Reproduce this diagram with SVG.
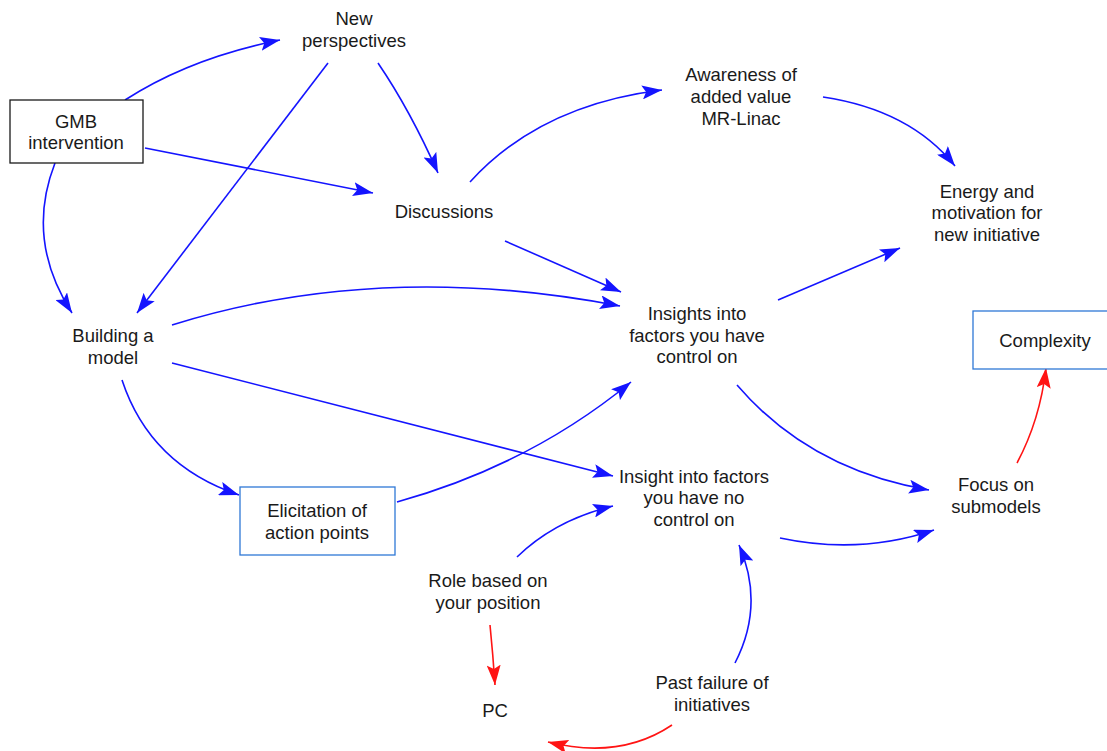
<svg xmlns="http://www.w3.org/2000/svg" width="1107" height="751" viewBox="0 0 1107 751">
  <style>
    text { font-family: "Liberation Sans", Arial, sans-serif; font-size: 18.5px; fill: #1a1a1a; text-anchor: middle; }
    .box { fill: #ffffff; stroke-width: 1.3; }
    .black { stroke: #1a1a1a; }
    .blue { stroke: #2f78d6; }
    .link { fill: none; stroke-width: 1.6; }
    .pos { stroke: #1414ff; marker-end: url(#ab); }
    .neg { stroke: #ff1414; marker-end: url(#ar); }
  </style>
  <defs>
    <marker id="ab" markerUnits="userSpaceOnUse" markerWidth="22" markerHeight="14" viewBox="0 0 22 14" refX="20" refY="7" orient="auto">
      <path d="M0,0 L20,7 L0,14 L4,7 Z" fill="#1414ff"/>
    </marker>
    <marker id="ar" markerUnits="userSpaceOnUse" markerWidth="22" markerHeight="14" viewBox="0 0 22 14" refX="20" refY="7" orient="auto">
      <path d="M0,0 L20,7 L0,14 L4,7 Z" fill="#ff1414"/>
    </marker>
  </defs>

  <g id="connectors">
    <path class="link pos" d="M125,100 Q190,58 280,40"/>
    <path class="link pos" d="M145,148 L373,193"/>
    <path class="link pos" d="M55,163 Q25,240 72,313"/>
    <path class="link pos" d="M378,63 Q410,110 438,173"/>
    <path class="link pos" d="M328,63 L137,313"/>
    <path class="link pos" d="M470,182 Q540,105 662,90"/>
    <path class="link pos" d="M823,97 Q910,110 955,166"/>
    <path class="link pos" d="M505,241 L621,292"/>
    <path class="link pos" d="M172,325 Q380,260 620,306"/>
    <path class="link pos" d="M172,363 L613,476"/>
    <path class="link pos" d="M122,380 Q150,465 239,495"/>
    <path class="link pos" d="M397,502 Q530,465 631,382"/>
    <path class="link pos" d="M778,300 L900,248"/>
    <path class="link pos" d="M737,385 Q810,470 929,490"/>
    <path class="link pos" d="M780,538 Q860,555 934,530"/>
    <path class="link pos" d="M517,557 Q555,520 613,506"/>
    <path class="link pos" d="M735,663 Q765,605 739,545"/>
    <path class="link neg" d="M1017,463 Q1040,420 1046,368"/>
    <path class="link neg" d="M490,625 Q493,655 495,685"/>
    <path class="link neg" d="M672,725 Q620,760 548,742"/>
  </g>

  <g id="new-perspectives">
    <text x="354" y="25">New</text>
    <text x="354" y="47">perspectives</text>
  </g>
  <g id="gmb-intervention">
    <rect class="box black" x="10" y="100" width="133" height="63"/>
    <text x="76" y="128">GMB</text>
    <text x="76" y="149">intervention</text>
  </g>
  <g id="awareness">
    <text x="741" y="81">Awareness of</text>
    <text x="741" y="103">added value</text>
    <text x="741" y="125">MR-Linac</text>
  </g>
  <g id="discussions">
    <text x="444" y="218">Discussions</text>
  </g>
  <g id="energy">
    <text x="987" y="198">Energy and</text>
    <text x="987" y="219">motivation for</text>
    <text x="987" y="241">new initiative</text>
  </g>
  <g id="building-model">
    <text x="113" y="342">Building a</text>
    <text x="113" y="364">model</text>
  </g>
  <g id="insights-control">
    <text x="697" y="320">Insights into</text>
    <text x="697" y="342">factors you have</text>
    <text x="697" y="363">control on</text>
  </g>
  <g id="complexity">
    <rect class="box blue" x="973" y="311" width="140" height="58"/>
    <text x="1045" y="347">Complexity</text>
  </g>
  <g id="elicitation">
    <rect class="box blue" x="240" y="487" width="155" height="68"/>
    <text x="317" y="517">Elicitation of</text>
    <text x="317" y="539">action points</text>
  </g>
  <g id="insight-no-control">
    <text x="694" y="483">Insight into factors</text>
    <text x="694" y="504">you have no</text>
    <text x="694" y="526">control on</text>
  </g>
  <g id="focus-submodels">
    <text x="996" y="491">Focus on</text>
    <text x="996" y="513">submodels</text>
  </g>
  <g id="role-position">
    <text x="488" y="587">Role based on</text>
    <text x="488" y="609">your position</text>
  </g>
  <g id="pc">
    <text x="495" y="717">PC</text>
  </g>
  <g id="past-failure">
    <text x="712" y="689">Past failure of</text>
    <text x="712" y="711">initiatives</text>
  </g>
</svg>
